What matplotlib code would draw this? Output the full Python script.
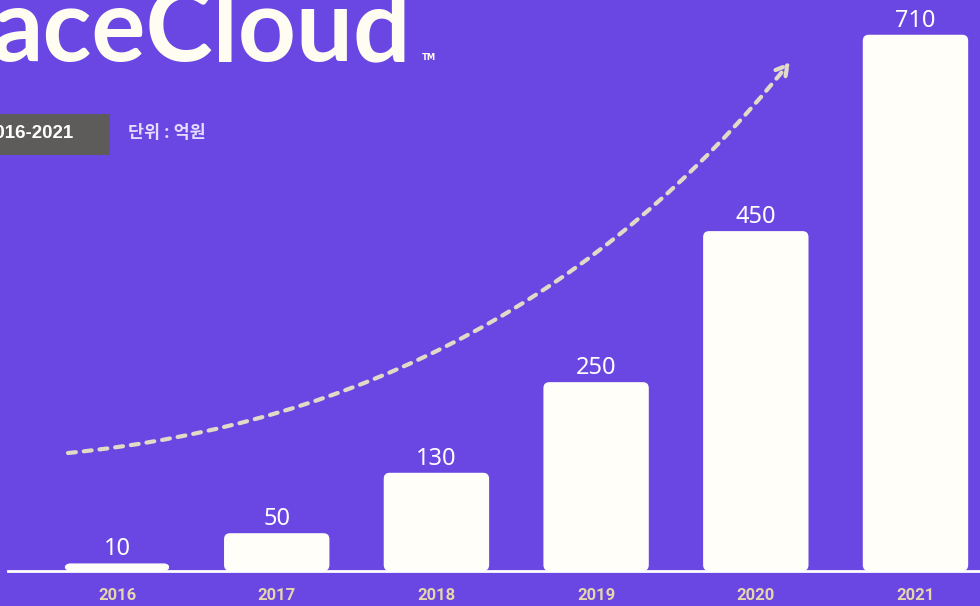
import matplotlib
matplotlib.use("Agg")
import matplotlib.pyplot as plt
from matplotlib.patches import FancyBboxPatch, Rectangle

years = ["2016", "2017", "2018", "2019", "2020", "2021"]
values = [10, 50, 130, 250, 450, 710]
title_text = "aceCloud"
period_text = "2016-2021"
unit_text = "단위 : 억원"

BG = "#6a46e2"
BAR = "#fffef8"
TICK = "#e6d6ac"
ARROW = "#e2dac6"

W, H = 980, 606
fig = plt.figure(figsize=(W / 100, H / 100), dpi=100, facecolor=BG)
ax = fig.add_axes([0, 0, 1, 1])
ax.set_facecolor(BG)
ax.set_xlim(-0.733, 5.404)
ax.set_ylim(-46.4, 756)
for s in ax.spines.values():
    s.set_visible(False)
ax.set_xticks([])
ax.set_yticks([])

x = list(range(len(years)))
bars = ax.bar(x, values, width=0.66, color="none", edgecolor="none")
px_x = 980 / (5.404 + 0.733)
px_y = 606 / (756 + 46.4)
for b, v in zip(bars, values):
    p = FancyBboxPatch((b.get_x(), b.get_y()), b.get_width(), b.get_height(),
                       boxstyle="round,pad=0,rounding_size=%f" % (6 / px_x),
                       mutation_aspect=px_x / px_y,
                       facecolor=BAR, edgecolor="none", zorder=3)
    ax.add_patch(p)
    ax.text(b.get_x() + b.get_width() / 2, v + 2 / px_y, str(v), ha="center", va="bottom",
            color="white", fontsize=17, family="Noto Sans", zorder=4)

ax.axhline(0, xmin=8 / 980, xmax=1, color="white", lw=2, zorder=4)

for xi, yr in zip(x, years):
    ax.text(xi, -25 / px_y, yr, ha="center", va="center", color=TICK, fontsize=12,
            family="Roboto", fontweight="bold")

# title
fig.text(-8 / W, 1 - 60 / H, title_text, ha="left", va="baseline", color="#fffdf2",
         fontsize=73, family="Lato", fontweight="bold")
fig.text(422 / W, 1 - 60 / H, "TM", ha="left", va="baseline", color="#fffdf2",
         fontsize=6, family="DejaVu Sans", fontweight="bold")

# period box
fig.patches.append(Rectangle((0, 1 - 155 / H), 110 / W, 41 / H, transform=fig.transFigure,
                             facecolor="#5d5c5a", edgecolor="none"))
fig.text(74 / W, 1 - 133 / H, period_text, ha="right", va="center", color="white",
         fontsize=13.5, family="Liberation Sans", fontweight="bold")
fig.text(128 / W, 1 - 133 / H, unit_text, ha="left", va="center", color="#e4dcff",
         fontsize=12.5, family=["Noto Sans CJK KR", "DejaVu Sans"], fontweight="bold")

# trend arrow
ax.annotate("", xy=(790 / W, 1 - 62 / H), xytext=(68 / W, 1 - 453 / H),
            xycoords="axes fraction", textcoords="axes fraction",
            arrowprops=dict(arrowstyle="->,head_length=0.8,head_width=0.45",
                            connectionstyle="arc3,rad=0.21", color=ARROW, lw=3.0,
                            linestyle=(0, (1.9, 1.9)), shrinkA=0, shrinkB=0),
            zorder=2)

fig.savefig("out.png", dpi=100, facecolor=BG)
